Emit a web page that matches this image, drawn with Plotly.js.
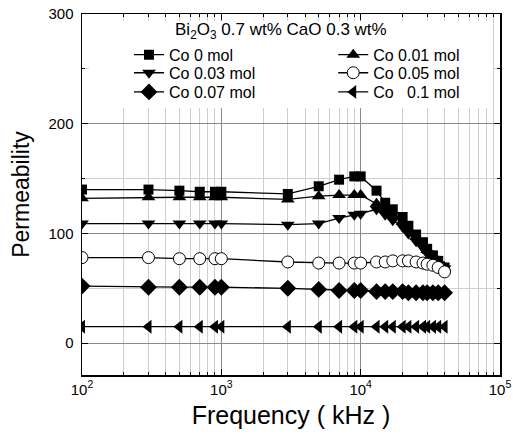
<!DOCTYPE html>
<html>
<head>
<meta charset="utf-8">
<script src="https://cdn.plot.ly/plotly-3.0.1.min.js"></script>
<style>html,body{margin:0;padding:0;background:#fff}#chart{width:513px;height:440px}</style>
</head>
<body>
<div id="chart"></div>
<script>
// Frequency (kHz)
const freq = [100, 300, 500, 700, 900, 1000, 3000, 5000, 7000, 9000, 10000,
              13000, 15000, 17000, 20000, 22000, 25000, 28000, 30000, 33000, 36000, 40000];
// Permeability series
const co0   = [140, 140, 139, 138, 138, 138, 136, 143, 149, 152, 152, 139, 128, 122, 115, 107, 99, 92, 86, 80, 75, 69];
const co001 = [132, 133, 133, 133, 133, 133, 131, 134, 135, 135, 135, 127, 122, 117, 111, 104, 97, 91, 85, 79, 74, 69];
const co003 = [109, 109, 109, 109, 109, 109, 108, 109, 114, 117, 118, 122, 117, 112, 106, 100, 93, 87, 82, 77, 72, 68];
const co005 = [78, 78, 77, 77, 77, 77, 74, 73, 73, 73, 73, 74, 74, 75, 75, 75, 74, 73, 72, 71, 69, 65];
const co007 = [52, 51, 51, 51, 51, 51, 50, 49, 48, 48, 48, 47, 47, 47, 47, 46, 46, 46, 46, 46, 46, 46];
const co01  = [15, 15, 15, 15, 15, 15, 15, 15, 15, 15, 15, 15, 15, 15, 15, 15, 15, 15, 15, 15, 15, 15];

const seriesNames = ['Co 0 mol', 'Co 0.01 mol', 'Co 0.03 mol', 'Co 0.05 mol', 'Co 0.07 mol', 'Co\u00a0\u00a0 0.1 mol'];
const xTickVals = [100, 1000, 10000, 100000];
const xTickText = ['10<sup>2</sup>', '10<sup>3</sup>', '10<sup>4</sup>', '10<sup>5</sup>'];
const yTickVals = [0, 100, 200, 300];
const yTickText = ['0', '100', '200', '300'];
const legendTitle = 'Bi<sub>2</sub>O<sub>3</sub> 0.7 wt% CaO 0.3 wt%';

const values = [co0, co001, co003, co005, co007, co01];
const symbols = ['square', 'triangle-up', 'triangle-down', 'circle', 'diamond', 'triangle-left'];
const sizes = [10, 12, 12, 12, 13, 12];
const legendIds = ['legend', 'legend2', 'legend3', 'legend4', 'legend5', 'legend6'];
const legendX = [0.1124, 0.601, 0.1124, 0.601, 0.1124, 0.601];
const legendY = [0.887, 0.887, 0.837, 0.837, 0.784, 0.784];

const traces = values.map((v, i) => ({
  type: 'scatter', mode: 'lines+markers',
  x: freq, y: v, name: seriesNames[i], legend: legendIds[i],
  line: {color: '#000', width: 1.3},
  marker: {
    symbol: symbols[i], size: sizes[i],
    color: symbols[i] === 'circle' ? '#fff' : '#000',
    line: {color: '#000', width: symbols[i] === 'circle' ? 1 : 0}
  }
}));

const layout = {
  width: 513, height: 440,
  margin: {l: 82, r: 13, t: 14, b: 65},
  paper_bgcolor: '#fff', plot_bgcolor: '#fff',
  font: {family: 'Liberation Sans, Arial, sans-serif', color: '#000'},
  showlegend: true,
  xaxis: {
    type: 'log', range: [2, 5],
    tickvals: xTickVals, ticktext: xTickText,
    ticks: 'inside', ticklen: 6, tickcolor: '#000',
    showline: true, linecolor: '#000', linewidth: 1.5, mirror: 'allticks',
    showgrid: true, gridcolor: '#8a8a8a', gridwidth: 1,
    zeroline: false,
    tickfont: {size: 15, color: '#000'},
    minor: {dtick: 'D1', showgrid: true, gridcolor: '#cfcfcf', gridwidth: 1, ticks: 'inside', ticklen: 3, tickcolor: '#000'},
    title: {text: 'Frequency ( kHz )', font: {size: 25, color: '#000'}, standoff: 10}
  },
  yaxis: {
    range: [-29, 300],
    tickvals: yTickVals, ticktext: yTickText,
    ticks: 'inside', ticklen: 6, tickcolor: '#000',
    showline: true, linecolor: '#000', linewidth: 1.5, mirror: 'allticks',
    showgrid: true, gridcolor: '#8a8a8a', gridwidth: 1,
    zeroline: false,
    tickfont: {size: 15, color: '#000'},
    ticklabelstandoff: 4,
    minor: {dtick: 50, showgrid: true, gridcolor: '#cfcfcf', gridwidth: 1, ticks: 'inside', ticklen: 3, tickcolor: '#000'},
    title: {text: 'Permeability', font: {size: 23, color: '#000'}, standoff: 12}
  },
  shapes: [{
    type: 'rect', xref: 'paper', yref: 'paper', layer: 'above',
    x0: 7 / 418, x1: 1 - 7 / 418, y0: (375 - 108) / 361, y1: 1 - 7 / 361,
    fillcolor: '#fff', line: {width: 0}
  }],
  annotations: [{
    xref: 'paper', yref: 'paper', x: 0.476, y: 0.953, xanchor: 'center', yanchor: 'middle',
    text: legendTitle, showarrow: false,
    font: {family: 'Liberation Sans, Arial, sans-serif', size: 17, color: '#000'}
  }]
};

legendIds.forEach((id, i) => {
  layout[id] = {
    orientation: 'v', xanchor: 'left', yanchor: 'middle',
    x: legendX[i], y: legendY[i],
    bgcolor: 'rgba(0,0,0,0)', borderwidth: 0,
    font: {family: 'Liberation Sans, Arial, sans-serif', size: 16, color: '#000'}
  };
});

Plotly.newPlot('chart', traces, layout, {displayModeBar: false, staticPlot: true});
</script>
</body>
</html>
